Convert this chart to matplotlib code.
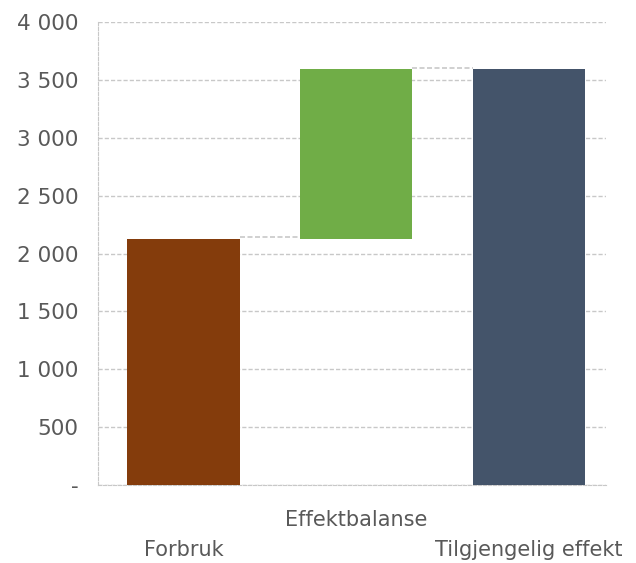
import matplotlib.pyplot as plt
from matplotlib.ticker import FuncFormatter

categories = ['Forbruk', 'Effektbalanse', 'Tilgjengelig effekt']
forbruk = 2125
effektbalanse = 1465
tilgjengelig = forbruk + effektbalanse

bottoms = [0, forbruk, 0]
heights = [forbruk, effektbalanse, tilgjengelig]
colors = ['#843C0C', '#70AD47', '#44546A']
yticks = [0, 500, 1000, 1500, 2000, 2500, 3000, 3500, 4000]

txt = '#595959'
grid = '#c8c8c8'

fig = plt.figure(figsize=(6.36, 5.63), dpi=100)
ax = fig.add_axes([98/636, 78/563, 508/636, 463/563])

x = list(range(len(categories)))
w = 0.65
ax.bar(x, heights, bottom=bottoms, width=w, color=colors, zorder=3)

# connectors between bars
tops = [b + h for b, h in zip(bottoms, heights)]
for i in range(len(x) - 1):
    ax.plot([x[i] + w/2, x[i+1] - w/2], [tops[i] + 15, tops[i] + 15],
            color=grid, linestyle=(0, (3, 1.5)), linewidth=1.2, zorder=2)

ax.set_xlim(-0.495, 2.445)
ax.set_ylim(0, 4000)
ax.set_yticks(yticks)
ax.yaxis.set_major_formatter(FuncFormatter(
    lambda v, p: '-' if v == 0 else f'{int(v):,}'.replace(',', ' ')))
ax.tick_params(axis='y', length=0, labelsize=15.5, labelcolor=txt, pad=14)
ax.set_xticks([])
ax.grid(axis='y', color=grid, linestyle=(0, (3, 1.5)), linewidth=1, zorder=0)

for s in ['right', 'top']:
    ax.spines[s].set_visible(False)
ax.spines['left'].set_color(grid)
ax.spines['left'].set_linestyle((0, (3, 1.5)))
ax.spines['bottom'].set_color(grid)
ax.spines['bottom'].set_linestyle((0, (3, 1.5)))

# staggered category labels
offsets = [-47, -25, -47]
for xi, lab, off in zip(x, categories, offsets):
    ax.annotate(lab, (xi, 0), xytext=(0, off), textcoords='offset points',
                ha='center', va='center', fontsize=15, color=txt,
                annotation_clip=False)

fig.savefig('out.png', dpi=100)
